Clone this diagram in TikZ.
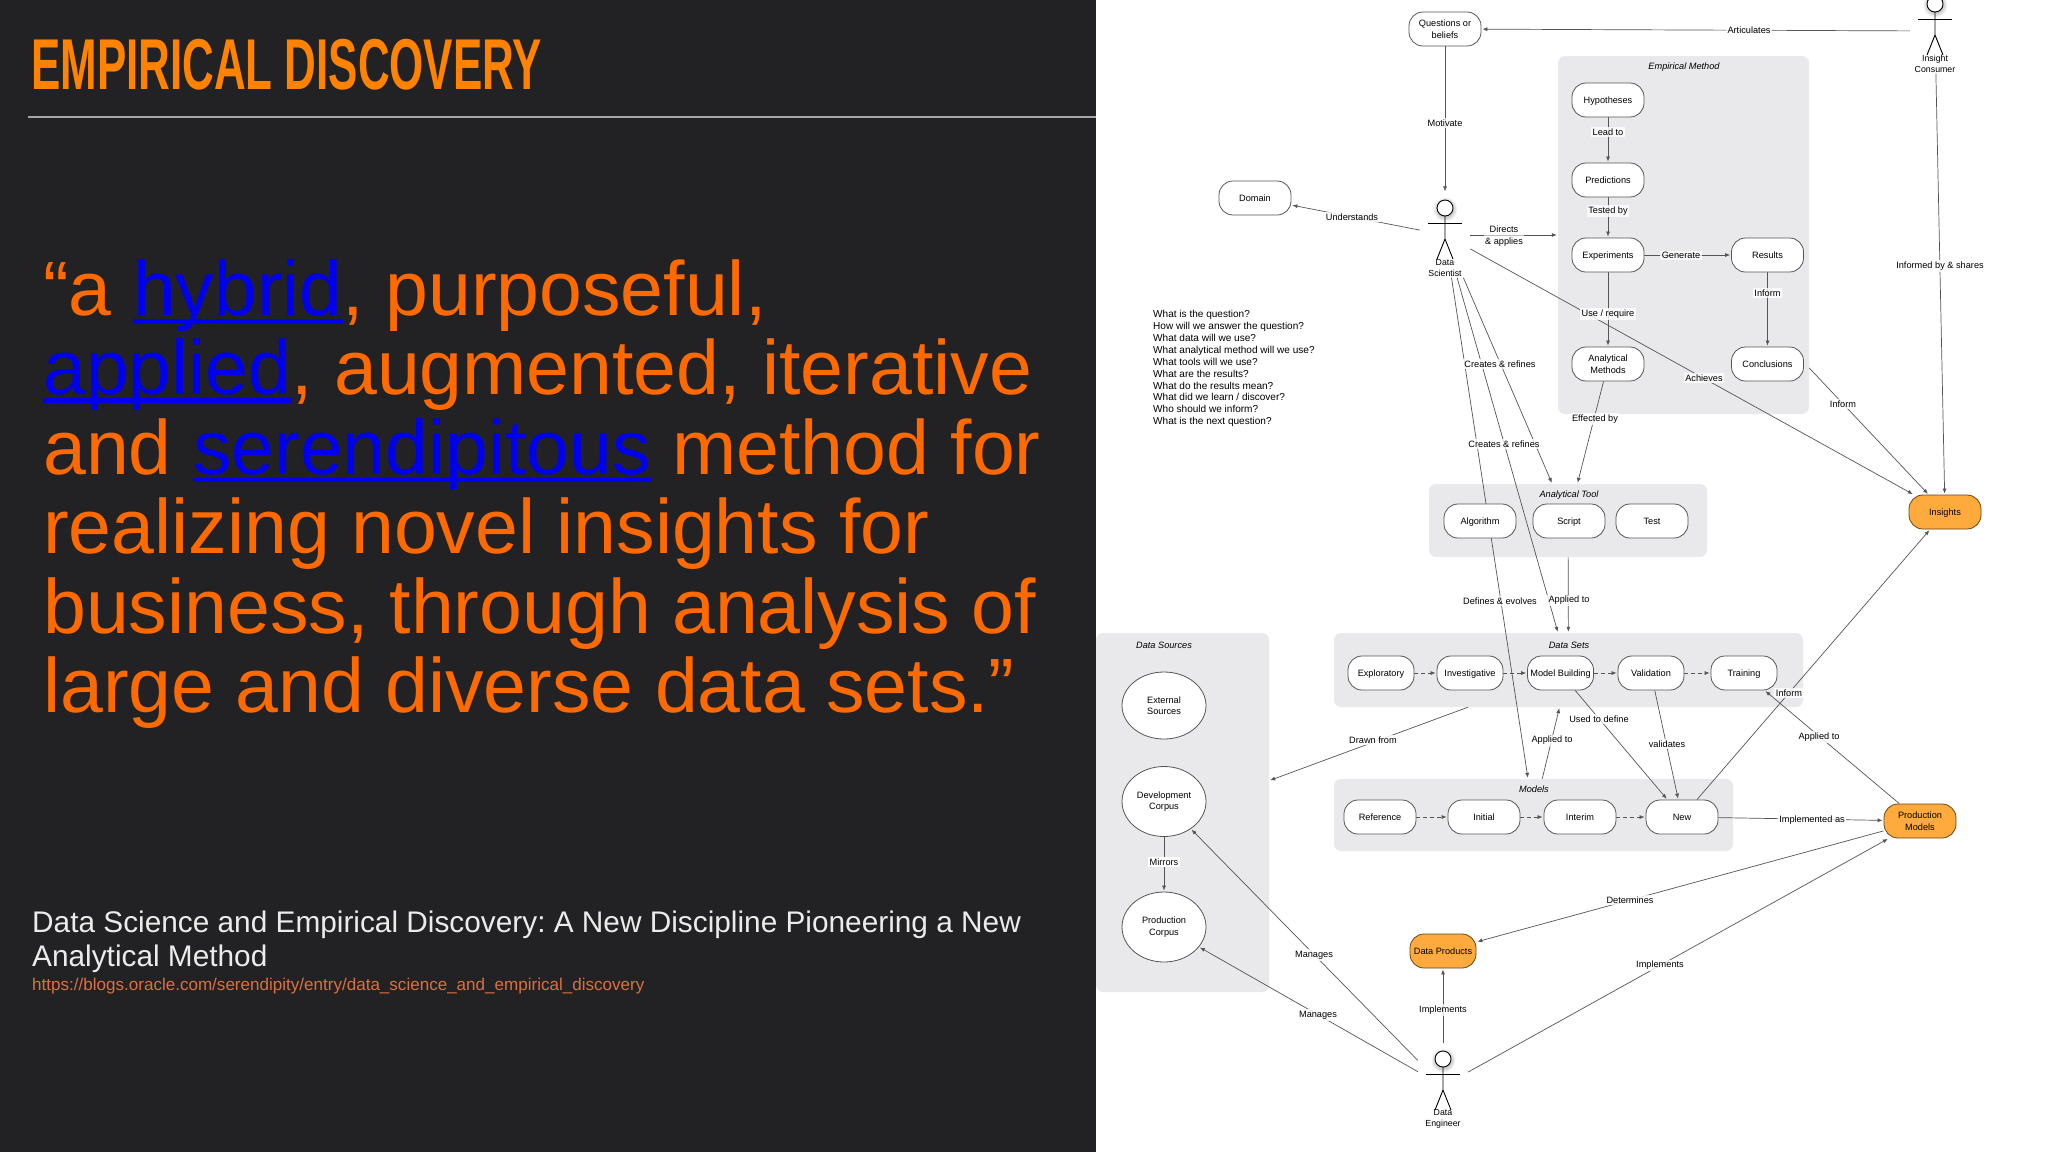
\documentclass[tikz,border=0pt]{standalone}
\usepackage{fontspec}
\setmainfont{Liberation Sans}
\usepackage{xcolor}
\usetikzlibrary{arrows.meta,shapes.geometric,positioning}
\definecolor{slidedark}{HTML}{222224}
\definecolor{titleorange}{HTML}{FF8200}
\definecolor{quoteorange}{HTML}{FF6A00}
\definecolor{linkblue}{HTML}{0000F0}
\definecolor{urlorange}{HTML}{D9703F}
\definecolor{boxgray}{HTML}{E9E9EC}
\definecolor{nodeorange}{HTML}{FFAA3C}
\definecolor{edgegray}{HTML}{555555}
\newcommand{\linkword}[1]{\setbox0=\hbox{#1}\rlap{\textcolor{linkblue}{\rule[-8pt]{\wd0}{4.5pt}}}\textcolor{linkblue}{#1}}
\frenchspacing
\pgfdeclarelayer{boxlayer}
\pgfdeclarelayer{edgelayer}
\pgfsetlayers{boxlayer,edgelayer,main}
\tikzset{
  groupbox/.style={fill=boxgray,rounded corners=7pt,inner sep=0pt,minimum width=#1},
  pill/.style={draw=edgegray,fill=white,rounded corners=14pt,line width=0.8pt,align=center,inner sep=0pt,
    minimum width=72pt,minimum height=34pt,text height=6.6pt,text depth=0pt,font=\fontsize{9.2}{11.5}\selectfont},
  twoline/.style={text height=,text depth=},
  slimpill/.style={pill,minimum width=66pt},
  hotpill/.style={pill,fill=nodeorange,draw=black!60!nodeorange},
  corpus/.style={draw=edgegray,fill=white,ellipse,line width=0.8pt,align=center,inner sep=0pt,
    minimum width=84pt,minimum height=70pt,font=\fontsize{9.2}{11.5}\selectfont},
  actorbox/.style={minimum width=50pt,minimum height=85pt,inner sep=0pt},
  actorline/.style={black,line width=0.9pt},
  lbl/.style={fill=white,fill opacity=0.8,text opacity=1,inner sep=1.5pt,align=center,
    font=\fontsize{9.2}{11.5}\selectfont},
  grouptitle/.style={font=\fontsize{9.2}{11}\selectfont\itshape},
  rel/.style={draw=edgegray,line width=0.7pt,-{Latex[length=5pt,width=4pt]},shorten >=1pt},
  seq/.style={rel,dashed,dash pattern=on 4pt off 3pt}
}
\begin{document}
\begin{tikzpicture}[x=1pt,y=-1pt]
\useasboundingbox (0,0) rectangle (2048,1152);

% Grey group boxes
\begin{pgfonlayer}{boxlayer}
\fill[white] (0,0) rectangle (2048,1152);
\node[groupbox=251pt,minimum height=358pt] (empbox) at (1683.5,235) {};
\node[groupbox=278pt,minimum height=73pt] (toolbox) at (1568,520.5) {};
\node[groupbox=469pt,minimum height=74pt] (setsbox) at (1568.5,670) {};
\node[groupbox=399pt,minimum height=72pt] (modelsbox) at (1533.5,815) {};
\node[groupbox=173pt,minimum height=359pt] (sourcesbox) at (1182.5,812.5) {};
\end{pgfonlayer}

% Left slide panel
\fill[slidedark] (0,0) rectangle (1096,1152);
\draw[gray!70!white,line width=1.6pt] (28,117) -- (1096,117);
\node[anchor=west,inner sep=0pt,text=titleorange,xscale=0.61,transform shape,
  font=\fontsize{72}{72}\selectfont\bfseries] (slidetitle) at (31,65) {EMPIRICAL DISCOVERY};
\node[anchor=north west,inner sep=0pt,align=left,text=quoteorange,
  font=\fontsize{77}{79.4}\selectfont] (quote) at (43,259.5) {%
``a \linkword{hybrid}, purposeful,\\
\linkword{applied}, augmented, iterative\\
and \linkword{serendipitous} method for\\
realizing novel insights for\\
business, through analysis of\\
large and diverse data sets.''};
\node[anchor=north west,inner sep=0pt,align=left,text=white!92!black,
  font=\fontsize{29.8}{34.5}\selectfont] (source) at (32,910.5) {%
Data Science and Empirical Discovery: A New Discipline Pioneering a New\\
Analytical Method};
\node[anchor=west,inner sep=0pt,text=urlorange,font=\fontsize{17.05}{20}\selectfont] (url) at (32,986.5)
  {https://blogs.oracle.com/serendipity/entry/data\_science\_and\_empirical\_discovery};

% Question list
\node[anchor=west,inner sep=0pt,align=left,font=\fontsize{10.05}{11.95}\selectfont] (questionlist) at (1153,368.5) {%
What is the question?\\
How will we answer the question?\\
What data will we use?\\
What analytical method will we use?\\
What tools will we use?\\
What are the results?\\
What do the results mean?\\
What did we learn / discover?\\
Who should we inform?\\
What is the next question?};

% Actors
\foreach \name/\x/\y/\ytext in {scientist/1445/235/{Data\\Scientist},
    consumer/1935/31/{Insight\\Consumer}, engineer/1443/1086/{Data\\Engineer}} {
  \node[actorbox] (\name) at (\x,\y) {};
  \begin{scope}[shift={(\x,\y)}]
    \shade[inner color=black!55,outer color=white,draw=none] (0,-26) circle (12.5);
    \draw[actorline,fill=white] (0,-27) circle (8);
    \draw[actorline] (-17,-12) -- (17,-12);
    \draw[actorline] (0,-19) -- (0,4) (-8,24) -- (0,4) -- (8,24);
  \end{scope}
  \node[align=center,inner sep=0pt,font=\fontsize{8.8}{10.5}\selectfont] (\name text) at (\x,\y+33) {\ytext};
}

% Empirical method
\node[grouptitle] (emptitle) at (1684,67) {Empirical Method};
\node[pill,twoline] (questions) at (1445,29) {Questions or\\beliefs};
\node[pill] (hypotheses) at (1608,100) {Hypotheses};
\node[pill] (predictions) at (1608,180) {Predictions};
\node[pill] (experiments) at (1608,255) {Experiments};
\node[pill] (results) at (1767.5,255) {Results};
\node[pill,twoline] (methods) at (1608,364) {Analytical\\Methods};
\node[pill] (conclusions) at (1767.5,364) {Conclusions};
\node[pill] (domain) at (1255,198) {Domain};
\node[hotpill] (insights) at (1945,512) {Insights};

% Analytical tool
\node[grouptitle] (tooltitle) at (1569,495.5) {Analytical Tool};
\node[pill] (algorithm) at (1480,521) {Algorithm};
\node[pill] (script) at (1569,521) {Script};
\node[pill] (test) at (1652,521) {Test};

% Data sets
\node[grouptitle] (setstitle) at (1569,645) {Data Sets};
\node[slimpill] (exploratory) at (1381,673) {Exploratory};
\node[slimpill] (investigative) at (1470,673) {Investigative};
\node[slimpill] (building) at (1560.5,673) {Model Building};
\node[slimpill] (validation) at (1651,673) {Validation};
\node[slimpill] (training) at (1744,673) {Training};

% Models
\node[grouptitle] (modelstitle) at (1534,789) {Models};
\node[pill] (reference) at (1380,817) {Reference};
\node[pill] (initial) at (1484,817) {Initial};
\node[pill] (interim) at (1580,817) {Interim};
\node[pill] (new) at (1682,817) {New};
\node[hotpill,twoline] (production) at (1920,821) {Production\\Models};
\node[hotpill,minimum width=66pt] (products) at (1443,951) {Data Products};

% Data sources
\node[grouptitle] (sourcestitle) at (1164,645) {Data Sources};
\node[corpus,minimum height=67pt] (external) at (1164,705.5) {External\\Sources};
\node[corpus] (development) at (1164,801.5) {Development\\Corpus};
\node[corpus] (prodcorpus) at (1164,927) {Production\\Corpus};

% Connectors
\begin{pgfonlayer}{edgelayer}
\draw[rel] (consumer) -- (questions);
\draw[rel] (questions) -- (scientist);
\draw[rel] (scientist) -- (domain);
\draw[rel] (scientist) -- (empbox);
\draw[rel] (scientist) -- (insights);
\draw[rel] (scientist) -- (toolbox);
\draw[rel] (scientist) -- (setsbox);
\draw[rel] (scientist) -- (modelsbox);
\draw[rel] (hypotheses) -- (predictions);
\draw[rel] (predictions) -- (experiments);
\draw[rel] (experiments) -- (results);
\draw[rel] (results) -- (conclusions);
\draw[rel] (experiments) -- (methods);
\draw[rel] (methods) -- (toolbox);
\draw[rel] (empbox) -- (insights);
\draw[rel] (consumer) -- (insights);
\draw[rel] (toolbox) -- (setsbox);
\draw[rel] (setsbox) -- (sourcesbox);
\draw[rel] (modelsbox) -- (setsbox);
\draw[rel] (building) -- (new);
\draw[rel] (validation) -- (new);
\draw[rel] (new) -- (insights);
\draw[rel] (production) -- (training);
\draw[rel] (new) -- (production);
\draw[rel] (production) -- (products);
\draw[rel] (engineer) -- (production);
\draw[rel] (engineer) -- (products);
\draw[rel] (engineer) -- (development);
\draw[rel] (engineer) -- (prodcorpus);
\draw[rel] (development) -- (prodcorpus);
% Dashed steps
\foreach \from/\to in {exploratory/investigative, investigative/building, building/validation,
    validation/training, reference/initial, initial/interim, interim/new}
  \draw[seq] (\from) -- (\to);
\end{pgfonlayer}

% Connector labels
\node[lbl] (lblarticulates) at (1749,30) {Articulates};
\node[lbl] (lblmotivate) at (1445,123) {Motivate};
\node[lbl] (lblunderstands) at (1352,217) {Understands};
\node[lbl,fill opacity=0.6] (lbldirects) at (1504,236) {Directs\\\& applies};
\node[lbl] (lblleadto) at (1608,132) {Lead to};
\node[lbl] (lbltested) at (1608,211) {Tested by};
\node[lbl] (lblgenerate) at (1681,255.5) {Generate};
\node[lbl] (lblinform) at (1767.5,293) {Inform};
\node[lbl] (lbluse) at (1608,314) {Use / require};
\node[lbl] (lblachieves) at (1704,378) {Achieves};
\node[lbl] (lblinformed) at (1940,266) {Informed by \& shares};
\node[lbl] (lblinsight) at (1843,404) {Inform};
\node[lbl] (lblcreatesa) at (1500,364) {Creates \& refines};
\node[lbl] (lblcreatesb) at (1504,444) {Creates \& refines};
\node[lbl] (lbleffected) at (1595,419) {Effected by};
\node[lbl] (lbldefines) at (1500,601) {Defines \& evolves};
\node[lbl] (lblapplieda) at (1569,600.5) {Applied to};
\node[lbl] (lbldrawn) at (1373,740) {Drawn from};
\node[lbl] (lblappliedb) at (1552,740.5) {Applied to};
\node[lbl] (lblused) at (1599,719) {Used to define};
\node[lbl] (lblvalidates) at (1667,744) {validates};
\node[lbl] (lblnewinform) at (1789,693) {Inform};
\node[lbl] (lblappliedc) at (1819,737) {Applied to};
\node[lbl] (lblimplemented) at (1812,820) {Implemented as};
\node[lbl] (lbldetermines) at (1630,900) {Determines};
\node[lbl] (lblimplementsa) at (1660,965.5) {Implements};
\node[lbl] (lblimplementsb) at (1443,1010) {Implements};
\node[lbl] (lblmanagesa) at (1314,955) {Manages};
\node[lbl] (lblmanagesb) at (1318,1015) {Manages};
\node[lbl,fill opacity=1] (lblmirrors) at (1164,862) {Mirrors};
\end{tikzpicture}
\end{document}
